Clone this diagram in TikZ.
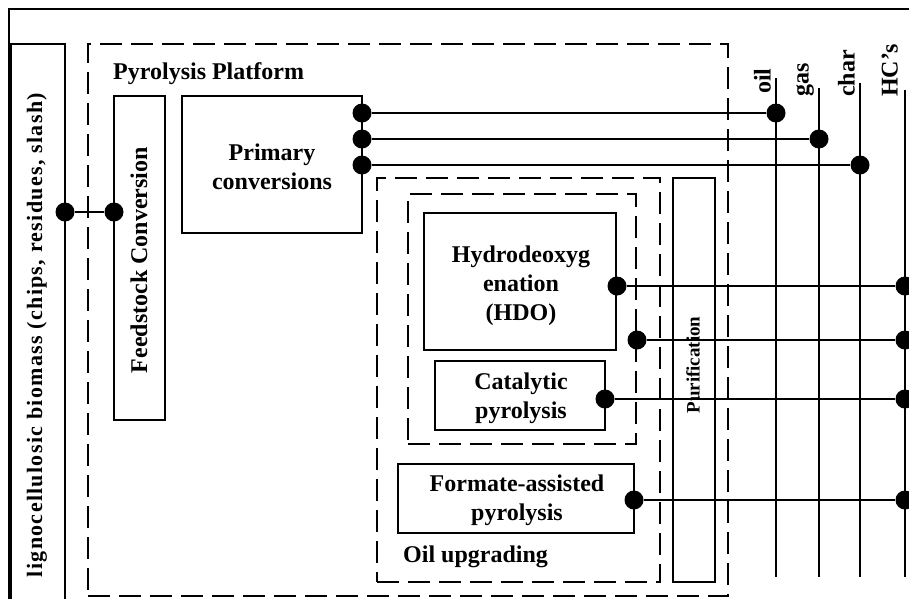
\documentclass[tikz,border=0pt]{standalone}
\usepackage{fontspec}
\setmainfont{Liberation Serif}
\newfontfamily\spacedserif[LetterSpace=6]{Liberation Serif}
\begin{document}
\begin{tikzpicture}[x=1pt,y=-1pt,
  box/.style={draw, line width=2.2pt, inner sep=0pt, outer sep=0pt},
  zone/.style={draw, line width=2.6pt, dash pattern=on 22pt off 9pt, inner sep=0pt, outer sep=0pt},
  wire/.style={line width=1.3pt},
  rail/.style={line width=1.3pt},
  dot/.style={circle, fill, inner sep=0pt, minimum size=19pt},
  txt/.style={font=\bfseries\fontsize{24}{29}\selectfont, align=center, inner sep=0pt},
  side/.style={txt, rotate=90},
  prod/.style={txt, rotate=90, anchor=south west}]

\useasboundingbox (0,0) rectangle (909,598);
\clip (0,0) rectangle (909,598);

% outer frame
\draw[line width=2pt] (9,600) -- (9,9) -- (910,9);

% dashed groupings
\node[zone, minimum width=640, minimum height=552] (pyro) at (408,320) {};
\node[zone, minimum width=283, minimum height=404] (upg) at (518.5,380) {};
\node[zone, minimum width=228, minimum height=250] (inner) at (522,319) {};

\node[txt, anchor=base west] (pyrolbl) at (113,79) {Pyrolysis Platform};
\node[txt, anchor=base west] (upglbl) at (403,562) {Oil upgrading};

% product rails
\coordinate (oilT) at (776,78);   \coordinate (oilB) at (776,577);
\coordinate (gasT) at (819,88);   \coordinate (gasB) at (819,577);
\coordinate (charT) at (860,83);  \coordinate (charB) at (860,577);
\coordinate (hcT) at (905,90);    \coordinate (hcB) at (905,577);
\draw[rail] (oilT) -- (oilB);
\draw[rail] (gasT) -- (gasB);
\draw[rail] (charT) -- (charB);
\draw[rail] (hcT) -- (hcB);

\node[prod] (oillbl) at (771,94) {oil};
\node[prod] (gaslbl) at (814,97) {gas};
\node[prod] (charlbl) at (855,97) {char};
\node[prod] (hclbl) at (898,97) {HC's};

% process boxes
\node[box, minimum width=54, minimum height=580] (bio) at (38,334) {};
\node[side, font=\spacedserif\bfseries\fontsize{22}{26}\selectfont] (biolbl) at (37,335) {lignocellulosic biomass (chips, residues, slash)};

\node[box, minimum width=51, minimum height=324] (feed) at (139.5,258) {};
\node[side] (feedlbl) at (139,260) {Feedstock Conversion};

\node[box, minimum width=180, minimum height=137] (prim) at (272,164.5) {};
\node[txt] (primlbl) at (272,167) {Primary\\conversions};

\node[box, minimum width=192, minimum height=137] (hdo) at (520,281.5) {};
\node[txt] (hdolbl) at (521,286) {Hydrodeoxyg\\enation\\(HDO)};

\node[box, minimum width=170, minimum height=69] (cat) at (520,395.5) {};
\node[txt] (catlbl) at (521,398) {Catalytic\\pyrolysis};

\node[box, minimum width=236, minimum height=69] (form) at (516,498.5) {};
\node[txt] (formlbl) at (517,500) {Formate-assisted\\pyrolysis};

\node[box, minimum width=42, minimum height=404] (pur) at (694,380) {};
\node[side, font=\bfseries\fontsize{19}{23}\selectfont] (purlbl) at (693,365) {Purification};

% junction dots
\node[dot] (bd) at (65,212) {};
\node[dot] (fd) at (114,212) {};
\node[dot] (pr1) at (362,113) {};
\node[dot] (pr2) at (362,139) {};
\node[dot] (pr3) at (362,165) {};
\node[dot] (oild) at (776,113) {};
\node[dot] (gasd) at (819,139) {};
\node[dot] (chard) at (860,165) {};
\node[dot] (hdod) at (617,286) {};
\node[dot] (innd) at (637,340) {};
\node[dot] (catd) at (605,399) {};
\node[dot] (formd) at (634,500) {};
\node[dot] (hc1) at (905,286) {};
\node[dot] (hc2) at (905,340) {};
\node[dot] (hc3) at (905,399) {};
\node[dot] (hc4) at (905,500) {};

% connectors
\draw[wire] (bd) -- (fd);
\draw[wire] (pr1) -- (oild);
\draw[wire] (pr2) -- (gasd);
\draw[wire] (pr3) -- (chard);
\draw[wire] (hdod) -- (hc1);
\draw[wire] (innd) -- (hc2);
\draw[wire] (catd) -- (hc3);
\draw[wire] (formd) -- (hc4);
\end{tikzpicture}
\end{document}
